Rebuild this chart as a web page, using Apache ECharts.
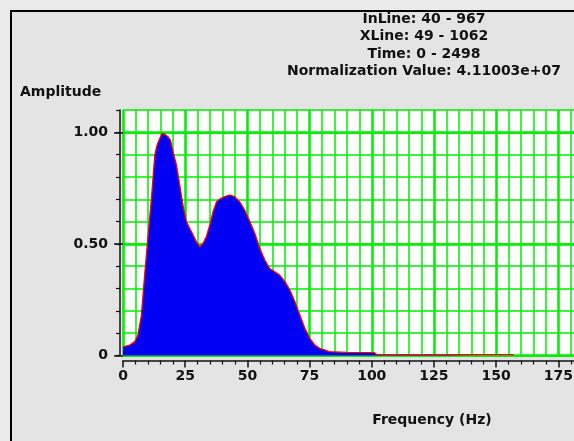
<!DOCTYPE html>
<html>
<head>
<meta charset="utf-8">
<script src="https://cdn.jsdelivr.net/npm/echarts@6/dist/echarts.min.js"></script>
<style>
html,body{margin:0;padding:0;background:#ebebeb;}
#c{width:574px;height:441px;}
</style>
</head>
<body>
<div id="c"></div>
<script>
// Data
var freq = [0, 2.7, 4.7, 6.0, 7.4, 8.7, 10.1, 11.4, 12.8, 13.7, 14.8, 15.8, 16.8, 18.1, 19.1, 20.1, 21.5, 22.8, 24.1, 25.5, 26.8, 28.2, 29.5, 30.9, 32.2, 33.5, 34.9, 36.2, 37.6, 38.9, 40.9, 42.9, 44.9, 46.9, 48.9, 51.0, 53.0, 55.0, 57.0, 59.0, 61.0, 63.0, 65.1, 67.1, 69.1, 71.1, 73.1, 75.1, 77.1, 79.1, 83.0, 90.0, 101.0, 102.0, 130.0, 157.0];
var amp = [0.039, 0.047, 0.062, 0.092, 0.18, 0.36, 0.54, 0.70, 0.90, 0.943, 0.973, 0.996, 0.991, 0.98, 0.965, 0.913, 0.853, 0.764, 0.674, 0.60, 0.57, 0.54, 0.51, 0.487, 0.503, 0.532, 0.585, 0.644, 0.689, 0.701, 0.712, 0.719, 0.712, 0.689, 0.652, 0.60, 0.547, 0.48, 0.428, 0.39, 0.375, 0.36, 0.331, 0.293, 0.241, 0.181, 0.122, 0.077, 0.047, 0.032, 0.017, 0.014, 0.013, 0.004, 0.004, 0.004];
var titleLines = ["InLine: 40 - 967", "XLine: 49 - 1062", "Time: 0 - 2498", "Normalization Value: 4.11003e+07"];
var yAxisTitle = "Amplitude";
var xAxisTitle = "Frequency (Hz)";
var yLabelValues = [0, 0.5, 1.0];

var FONT = 'bold 14px "DejaVu Sans"';
var seriesData = freq.map(function (f, i) { return [f, amp[i]]; });

var graphics = [{
  type: 'rect', z: -100, silent: true,
  shape: { x: 11, y: 11, width: 700, height: 600 },
  style: { fill: '#e4e4e4', stroke: '#000', lineWidth: 2 }
}];
titleLines.forEach(function (t, i) {
  graphics.push({
    type: 'text', x: 424, y: 19 + i * 17.5,
    style: { text: t, font: FONT, fill: '#111', align: 'center', verticalAlign: 'middle' }
  });
});
graphics.push({ type: 'text', x: 20, y: 92,
  style: { text: yAxisTitle, font: FONT, fill: '#111', align: 'left', verticalAlign: 'middle' } });
graphics.push({ type: 'text', x: 432, y: 420,
  style: { text: xAxisTitle, font: FONT, fill: '#111', align: 'center', verticalAlign: 'middle' } });

var labelStyle = { fontFamily: 'DejaVu Sans', fontWeight: 'bold', fontSize: 14, color: '#111' };
var green = '#00ee00';

var option = {
  animation: false,
  graphic: graphics,
  grid: {
    left: 123, top: 110, bottom: 85.5, right: -46.5,
    show: true, backgroundColor: '#ffffff', borderWidth: 0,
    outerBoundsMode: 'none', containLabel: false
  },
  xAxis: [{
    type: 'value', min: 0, max: 200, interval: 25, position: 'bottom', offset: 5,
    axisLine: { show: true, onZero: false, lineStyle: { color: '#111', width: 1.5 } },
    axisTick: { show: true, length: 7, lineStyle: { color: '#111', width: 1.5 } },
    minorTick: { show: true, splitNumber: 5, length: 4, lineStyle: { color: '#111', width: 1.2 } },
    axisLabel: Object.assign({ margin: 9 }, labelStyle),
    splitLine: { show: true, lineStyle: { color: green, width: 2.5 } },
    minorSplitLine: { show: true, lineStyle: { color: green, width: 1.5 } }
  }],
  yAxis: [{
    type: 'value', min: 0, max: 1.1, interval: 0.1, position: 'left', offset: 3,
    axisLine: { show: true, onZero: false, lineStyle: { color: '#111', width: 1.5 } },
    axisTick: { show: true, length: 4, lineStyle: { color: '#111', width: 1.2 } },
    axisLabel: { show: false },
    splitLine: { show: true, lineStyle: { color: green, width: 1.5 } }
  }, {
    type: 'value', min: 0, max: 1.1, interval: 0.5, position: 'left', offset: 3,
    axisLine: { show: false },
    axisTick: { show: true, length: 9, customValues: yLabelValues, lineStyle: { color: '#111', width: 1.5 } },
    axisLabel: Object.assign({
      margin: 12, customValues: yLabelValues,
      formatter: function (v) { return v === 0 ? '0' : (Math.abs(v - 1.1) < 1e-6 ? '' : v.toFixed(2)); }
    }, labelStyle),
    splitLine: { show: true, lineStyle: { color: green, width: 2.5 } }
  }],
  series: [{
    type: 'line', xAxisIndex: 0, yAxisIndex: 0,
    data: seriesData, showSymbol: false, smooth: false,
    lineStyle: { color: '#ff0000', width: 1.3 },
    areaStyle: { color: '#0000f5', opacity: 1 },
    z: 5
  }]
};
var chart = echarts.init(document.getElementById('c'), null, { renderer: 'canvas' });
chart.setOption(option);
</script>
</body>
</html>
